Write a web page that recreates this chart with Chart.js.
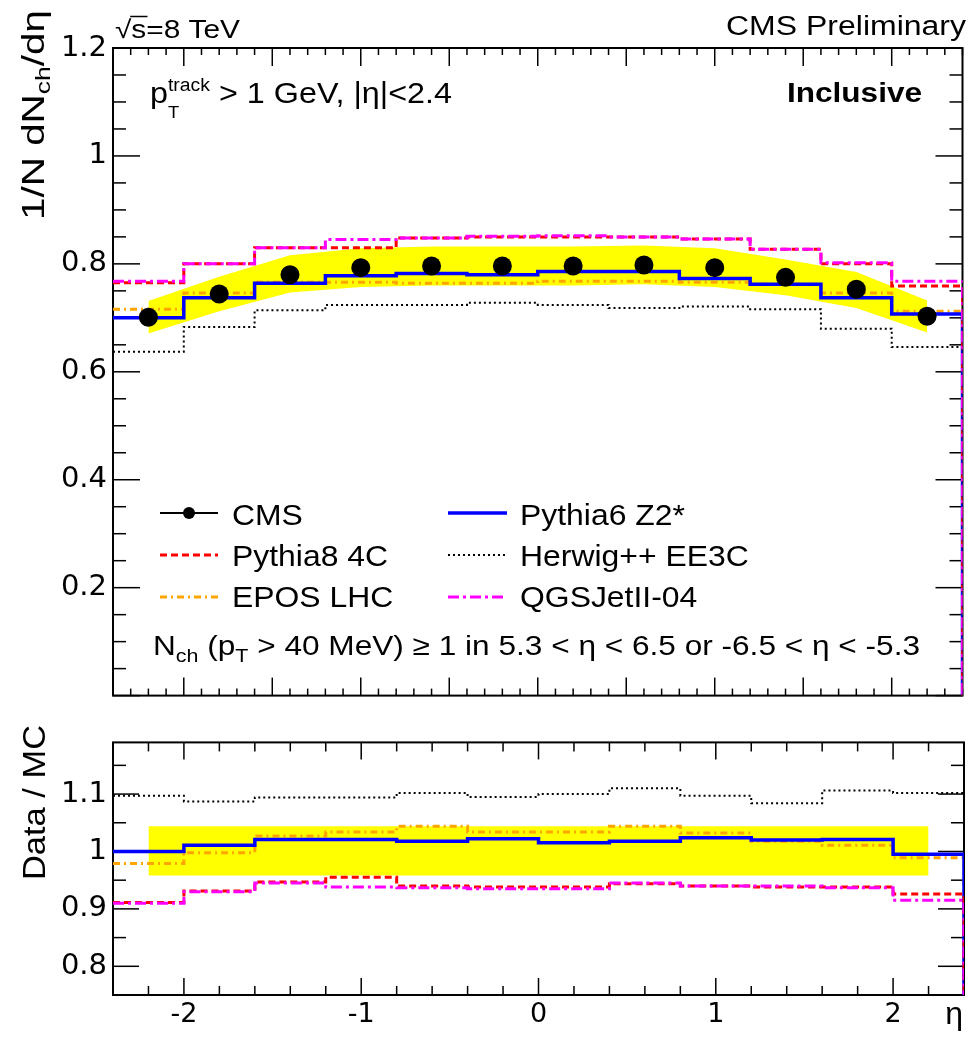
<!DOCTYPE html>
<html lang="en">
<head>
<meta charset="UTF-8">
<title>Charged particle dN/deta, inclusive, 8 TeV</title>
<script src="https://cdn.jsdelivr.net/npm/chart.js@4.4.0/dist/chart.umd.min.js"></script>
<style>
  body { margin: 0; background: #fff; }
  #page { position: relative; width: 972px; height: 1038px; }
  .pad { position: absolute; left: 0; width: 972px; }
  #padTop { top: 0; height: 719px; }
  #padRatio { top: 719px; height: 319px; }
</style>
</head>
<body>
<div id="page">
  <div class="pad" id="padTop"><canvas id="mainChart"></canvas></div>
  <div class="pad" id="padRatio"><canvas id="ratioChart"></canvas></div>
</div>
<script>
// eta binning (12 bins of 0.4 between -2.4 and 2.4)
const binLo = [-2.4, -2.0, -1.6, -1.2, -0.8, -0.4, 0.0, 0.4, 0.8, 1.2, 1.6, 2.0];
const etaEdgeMax = 2.4;
const etaC = [-2.2, -1.8, -1.4, -1.0, -0.6, -0.2, 0.2, 0.6, 1.0, 1.4, 1.8, 2.2];

// 1/N dNch/deta
const cmsVals   = [0.701, 0.744, 0.780, 0.793, 0.796, 0.796, 0.796, 0.798, 0.793, 0.775, 0.753, 0.703];
const cmsBandHi = [0.731, 0.776, 0.816, 0.829, 0.832, 0.832, 0.832, 0.834, 0.829, 0.808, 0.785, 0.732];
const cmsBandLo = [0.671, 0.712, 0.747, 0.757, 0.760, 0.760, 0.760, 0.762, 0.757, 0.742, 0.718, 0.673];
const pythia6   = [0.700, 0.737, 0.764, 0.778, 0.782, 0.780, 0.786, 0.786, 0.773, 0.762, 0.737, 0.707];
const pythia8   = [0.765, 0.800, 0.830, 0.830, 0.848, 0.850, 0.850, 0.850, 0.846, 0.827, 0.800, 0.759];
const herwig    = [0.637, 0.683, 0.714, 0.724, 0.724, 0.728, 0.724, 0.718, 0.721, 0.716, 0.680, 0.646];
const epos      = [0.716, 0.746, 0.766, 0.766, 0.764, 0.764, 0.768, 0.768, 0.766, 0.762, 0.746, 0.712];
const qgsjet    = [0.768, 0.800, 0.830, 0.845, 0.848, 0.851, 0.852, 0.850, 0.846, 0.827, 0.802, 0.768];

// Data / MC
const ratioBandX  = [-2.2, 2.2];
const ratioBandHi = [1.044, 1.044];
const ratioBandLo = [0.958, 0.958];
const rPythia6 = [1.000, 1.011, 1.021, 1.021, 1.018, 1.022, 1.015, 1.018, 1.024, 1.020, 1.021, 0.995];
const rPythia8 = [0.911, 0.931, 0.947, 0.955, 0.940, 0.938, 0.938, 0.944, 0.940, 0.938, 0.938, 0.926];
const rHerwig  = [1.097, 1.087, 1.094, 1.094, 1.102, 1.095, 1.100, 1.110, 1.097, 1.084, 1.106, 1.102];
const rEpos    = [0.979, 0.998, 1.027, 1.034, 1.044, 1.034, 1.034, 1.044, 1.032, 1.018, 1.011, 0.989];
const rQgsjet  = [0.910, 0.930, 0.945, 0.938, 0.937, 0.935, 0.935, 0.945, 0.940, 0.940, 0.937, 0.915];

const SANS = '"Liberation Sans", Arial, Helvetica, sans-serif';
const TICKFONT = '"DejaVu Sans", "Liberation Sans", sans-serif';

const styles = {
    p6:     { color: '#0000ff', width: 3.5, dash: [] },
    p8:     { color: '#ff0000', width: 3, dash: [7, 4] },
    herwig: { color: '#000000', width: 2, dash: [2, 3] },
    epos:   { color: '#ffa500', width: 3, dash: [7, 4, 2, 4] },
    qgs:    { color: '#ff00ff', width: 3, dash: [11, 4, 3, 4] }
};

function stepPts(vals) {
    const pts = binLo.map((e, i) => ({ x: e, y: vals[i] }));
    pts.push({ x: etaEdgeMax, y: vals[vals.length - 1] });
    pts.push({ x: etaEdgeMax, y: 0 });
    return pts;
}

function histSet(label, vals, st, order) {
    return {
        label: label,
        data: stepPts(vals),
        stepped: true,
        borderColor: st.color,
        borderWidth: st.width,
        borderDash: st.dash,
        pointRadius: 0,
        fill: false,
        order: order
    };
}

function bandSets(xs, hi, lo) {
    return [
        { label: 'band hi', data: xs.map((x, i) => ({ x: x, y: hi[i] })), borderWidth: 0, pointRadius: 0,
          backgroundColor: '#ffff00', fill: '+1', order: 10 },
        { label: 'band lo', data: xs.map((x, i) => ({ x: x, y: lo[i] })), borderWidth: 0, pointRadius: 0,
          fill: false, order: 11 }
    ];
}

// text with sub/superscripts, optional horizontal fit to a width
function drawRich(ctx, parts, x, y, o) {
    o = o || {};
    ctx.save();
    ctx.translate(x, y);
    if (o.rot) ctx.rotate(o.rot);
    ctx.fillStyle = '#000';
    ctx.strokeStyle = '#000';
    ctx.textAlign = 'left';
    ctx.textBaseline = 'alphabetic';
    const fontOf = p => (p.bold ? 'bold ' : '') + p.s + 'px ' + SANS;
    const widths = parts.map(p => { ctx.font = fontOf(p); return ctx.measureText(p.t).width; });
    let w = 0;
    parts.forEach((p, i) => { if (!p.stay) w += widths[i]; });
    const sx = o.width ? o.width / w : (o.sx || 1);
    ctx.scale(sx, 1);
    let cx = o.align === 'right' ? -w : 0;
    parts.forEach((p, i) => {
        ctx.font = fontOf(p);
        ctx.fillText(p.t, cx, p.dy || 0);
        if (p.over) {
            ctx.lineWidth = 1.5;
            const oy = (p.dy || 0) - p.s * 0.86;
            ctx.beginPath();
            ctx.moveTo(cx - 1, oy);
            ctx.lineTo(cx + widths[i] + 1, oy);
            ctx.stroke();
        }
        if (!p.stay) cx += widths[i];
    });
    ctx.restore();
}

// ROOT-like frame with inward ticks on all four sides
function drawFrame(chart, t) {
    const { ctx, chartArea: a } = chart;
    const xs = chart.scales.x, ys = chart.scales.y;
    ctx.save();
    ctx.strokeStyle = '#000';
    ctx.setLineDash([]);
    const mark = (x1, y1, x2, y2) => { ctx.beginPath(); ctx.moveTo(x1, y1); ctx.lineTo(x2, y2); ctx.stroke(); };
    const isMul = (v, m) => Math.abs(v / m - Math.round(v / m)) < 1e-6;
    ctx.lineWidth = 1.5;
    for (let k = Math.ceil(xs.min / t.xMinor - 1e-6); k * t.xMinor <= xs.max + 1e-9; k++) {
        const v = k * t.xMinor;
        const px = xs.getPixelForValue(v);
        const L = isMul(v, t.xMajor) ? t.xLen[0] : t.xLen[1];
        mark(px, a.bottom, px, a.bottom - L);
        mark(px, a.top, px, a.top + L);
    }
    for (let k = Math.ceil(ys.min / t.yMinor - 1e-6); k * t.yMinor <= ys.max + 1e-9; k++) {
        const v = k * t.yMinor;
        const py = ys.getPixelForValue(v);
        const L = isMul(v, t.yMajor) ? t.yLen[0] : t.yLen[1];
        mark(a.left, py, a.left + L, py);
        mark(a.right, py, a.right - L, py);
    }
    ctx.lineWidth = 2;
    ctx.strokeRect(a.left, a.top, a.right - a.left, a.bottom - a.top);
    ctx.restore();
}

function legendLine(ctx, st, x1, x2, y) {
    ctx.save();
    ctx.strokeStyle = st.color;
    ctx.lineWidth = st.width;
    ctx.setLineDash(st.dash);
    ctx.beginPath();
    ctx.moveTo(x1, y);
    ctx.lineTo(x2, y);
    ctx.stroke();
    ctx.restore();
}

const topDecor = {
    id: 'topDecor',
    beforeDatasetsDraw(chart) {
        drawFrame(chart, { xMinor: 0.1, xMajor: 0.5, xLen: [18, 7], yMinor: 0.05, yMajor: 0.2, yLen: [27, 13] });
    },
    afterDraw(chart) {
        const ctx = chart.ctx;
        drawRich(ctx, [{ t: '\u221A', s: 25 }, { t: 's', s: 25, over: true }, { t: '=8 TeV', s: 25 }], 115, 38, { width: 125 });
        drawRich(ctx, [{ t: 'CMS Preliminary', s: 27 }], 966, 35, { align: 'right', width: 240 });
        drawRich(ctx, [
            { t: 'p', s: 30 }, { t: 'T', s: 17, dy: 15, stay: true }, { t: 'track', s: 18, dy: -12 },
            { t: ' > 1 GeV, |\u03B7|<2.4', s: 30 }
        ], 150, 103, { width: 302 });
        drawRich(ctx, [{ t: 'Inclusive', s: 27, bold: true }], 922, 102, { align: 'right', width: 135 });
        drawRich(ctx, [{ t: '1/N dN', s: 32 }, { t: 'ch', s: 21, dy: 6 }, { t: '/d\u03B7', s: 32 }], 44, 220,
            { rot: -Math.PI / 2, width: 210 });

        // legend, two columns
        ctx.save();
        ctx.strokeStyle = '#000';
        ctx.lineWidth = 2;
        ctx.beginPath();
        ctx.moveTo(160, 513);
        ctx.lineTo(218, 513);
        ctx.stroke();
        ctx.fillStyle = '#000';
        ctx.beginPath();
        ctx.arc(189, 513, 6, 0, Math.PI * 2);
        ctx.fill();
        ctx.restore();
        legendLine(ctx, styles.p8, 160, 218, 555);
        legendLine(ctx, styles.epos, 160, 218, 597);
        legendLine(ctx, styles.p6, 448, 507, 513);
        legendLine(ctx, styles.herwig, 448, 507, 555);
        legendLine(ctx, styles.qgs, 448, 507, 597);
        drawRich(ctx, [{ t: 'CMS', s: 29 }], 232, 525, { sx: 1.1 });
        drawRich(ctx, [{ t: 'Pythia8 4C', s: 29 }], 232, 566, { sx: 1.1 });
        drawRich(ctx, [{ t: 'EPOS LHC', s: 29 }], 232, 607, { sx: 1.1 });
        drawRich(ctx, [{ t: 'Pythia6 Z2*', s: 29 }], 520, 525, { sx: 1.1 });
        drawRich(ctx, [{ t: 'Herwig++ EE3C', s: 29 }], 520, 566, { sx: 1.1 });
        drawRich(ctx, [{ t: 'QGSJetII-04', s: 29 }], 520, 607, { sx: 1.1 });

        drawRich(ctx, [
            { t: 'N', s: 28 }, { t: 'ch', s: 19, dy: 7 }, { t: ' (p', s: 28 }, { t: 'T', s: 19, dy: 7 },
            { t: ' > 40 MeV) \u2265 1 in 5.3 < \u03B7 < 6.5 or -6.5 < \u03B7 < -5.3', s: 28 }
        ], 153, 655, { width: 767 });
    }
};

const ratioDecor = {
    id: 'ratioDecor',
    beforeDatasetsDraw(chart) {
        drawFrame(chart, { xMinor: 0.2, xMajor: 1, xLen: [17, 9], yMinor: 0.05, yMajor: 0.1, yLen: [26, 13] });
    },
    afterDraw(chart) {
        const ctx = chart.ctx;
        drawRich(ctx, [{ t: 'Data / MC', s: 32 }], 45, 161, { rot: -Math.PI / 2, width: 155 });
        drawRich(ctx, [{ t: '\u03B7', s: 32 }], 963, 305, { align: 'right' });
    }
};

// tick label text: rounded, "0" hidden on the main pad
const tickText = v => {
    const r = Math.round(v * 100) / 100;
    return r === 0 ? '' : String(r);
};

new Chart(document.getElementById('mainChart'), {
    type: 'line',
    data: {
        datasets: [
            {
                label: 'CMS',
                data: etaC.map((e, i) => ({ x: e, y: cmsVals[i] })),
                showLine: false,
                pointRadius: 9.5,
                pointBackgroundColor: '#000',
                pointBorderColor: '#000',
                pointBorderWidth: 0,
                order: 0
            },
            histSet('QGSJetII-04', qgsjet, styles.qgs, 1),
            histSet('Pythia8 4C', pythia8, styles.p8, 2),
            histSet('Pythia6 Z2*', pythia6, styles.p6, 3),
            histSet('EPOS LHC', epos, styles.epos, 4),
            histSet('Herwig++ EE3C', herwig, styles.herwig, 5),
            ...bandSets(etaC, cmsBandHi, cmsBandLo)
        ]
    },
    options: {
        responsive: true,
        maintainAspectRatio: false,
        animation: false,
        events: [],
        layout: { padding: { left: 0, right: 8, top: 48, bottom: 3 } },
        plugins: { legend: { display: false }, tooltip: { enabled: false } },
        scales: {
            x: { type: 'linear', min: -2.4, max: 2.4, display: false },
            y: {
                min: 0, max: 1.2,
                grid: { display: false, drawTicks: false },
                border: { display: false },
                ticks: { stepSize: 0.2, color: '#000', padding: 6, font: { family: TICKFONT, size: 29 }, callback: tickText },
                afterFit: s => { s.width = 113; }
            }
        }
    },
    plugins: [topDecor]
});

new Chart(document.getElementById('ratioChart'), {
    type: 'line',
    data: {
        datasets: [
            histSet('QGSJetII-04', rQgsjet, styles.qgs, 1),
            histSet('Pythia8 4C', rPythia8, styles.p8, 2),
            histSet('Pythia6 Z2*', rPythia6, styles.p6, 3),
            histSet('EPOS LHC', rEpos, styles.epos, 4),
            histSet('Herwig++ EE3C', rHerwig, styles.herwig, 5),
            ...bandSets(ratioBandX, ratioBandHi, ratioBandLo)
        ]
    },
    options: {
        responsive: true,
        maintainAspectRatio: false,
        animation: false,
        events: [],
        layout: { padding: { left: 0, right: 8, top: 4, bottom: 0 } },
        plugins: { legend: { display: false }, tooltip: { enabled: false } },
        scales: {
            x: {
                type: 'linear', min: -2.4, max: 2.4,
                grid: { display: false, drawTicks: false },
                border: { display: false },
                ticks: { stepSize: 1, includeBounds: false, maxRotation: 0, autoSkip: false, color: '#000', padding: 4,
                         font: { family: TICKFONT, size: 27 }, callback: v => String(Math.round(v)) },
                afterFit: s => { s.height = 43; }
            },
            y: {
                min: 0.75, max: 1.19,
                grid: { display: false, drawTicks: false },
                border: { display: false },
                ticks: { stepSize: 0.1, includeBounds: false, color: '#000', padding: 6,
                         font: { family: TICKFONT, size: 29 }, callback: tickText },
                afterFit: s => { s.width = 113; }
            }
        }
    },
    plugins: [ratioDecor]
});
</script>
</body>
</html>
